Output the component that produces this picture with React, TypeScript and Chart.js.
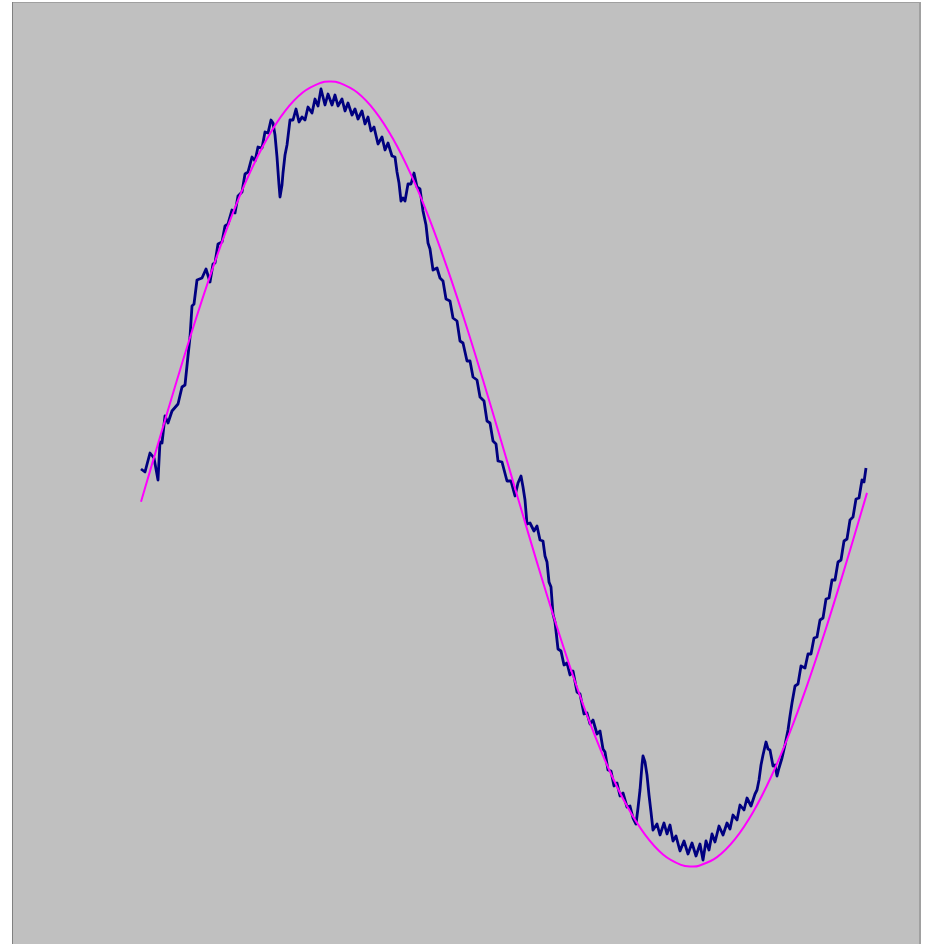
import { useEffect, useRef } from "react";
import { Chart, registerables } from "chart.js";

Chart.register(...registerables);

// Axis ranges (sample index / ADC counts)
const X_MIN = -128;
const X_MAX = 778;
const Y_MIN = -470;
const Y_MAX = 471;

// Fitted sine (magenta)
const fitX = [0, 18, 36, 54, 72, 90, 108, 126, 144, 162, 180, 189, 198, 216, 234, 252, 270, 288, 306, 324, 342, 360, 378, 396, 414, 432, 450, 468, 486, 504, 522, 540, 551, 558, 576, 594, 612, 630, 648, 666, 684, 702, 720, 726];
const fitY = [-27.8, 33.5, 94.0, 152.2, 206.6, 256.1, 299.3, 335.2, 362.9, 381.7, 391.3, 392.5, 391.3, 381.7, 362.9, 335.2, 299.3, 256.1, 206.6, 152.2, 94.0, 33.5, -27.8, -88.4, -146.8, -201.7, -251.7, -295.5, -332.1, -360.6, -380.4, -390.8, -392.5, -391.7, -383.1, -365.1, -338.2, -303.0, -260.5, -211.6, -157.5, -99.6, -39.3, -18.9];

const sampleX = [0, 4, 9, 13, 17, 19, 21, 24, 27, 31, 37, 41, 44, 47, 49, 51, 53, 56, 61, 65, 69, 72, 74, 77, 81, 84, 87, 91, 94, 97, 101, 104, 107, 111, 114, 117, 121, 124, 127, 130, 132, 134, 136, 138, 139, 141, 142, 144, 146, 149, 152, 155, 158, 161, 164, 167, 171, 174, 177, 180, 184, 187, 191, 194, 197, 201, 204, 207, 211, 214, 217, 221, 224, 227, 230, 233, 237, 241, 244, 247, 251, 254, 256, 258, 260, 262, 264, 267, 270, 273, 276, 279, 282, 285, 287, 289, 292, 296, 299, 302, 305, 309, 312, 316, 319, 322, 326, 329, 332, 336, 339, 343, 346, 349, 352, 355, 357, 361, 366, 370, 374, 377, 380, 382, 384, 386, 389, 393, 396, 399, 402, 404, 406, 408, 410, 412, 414, 417, 420, 423, 426, 429, 432, 436, 439, 443, 446, 449, 452, 456, 459, 462, 464, 467, 470, 473, 476, 479, 482, 486, 489, 492, 495, 497, 499, 501, 502, 504, 506, 508, 510, 512, 516, 519, 523, 526, 529, 532, 535, 539, 543, 547, 551, 555, 559, 562, 565, 568, 571, 574, 578, 582, 586, 589, 592, 596, 599, 603, 606, 610, 614, 616, 618, 620, 622, 625, 627, 629, 632, 634, 636, 638, 641, 644, 647, 649, 651, 654, 657, 660, 664, 667, 670, 673, 676, 679, 682, 685, 688, 691, 694, 697, 700, 703, 706, 709, 712, 715, 718, 721, 723, 725];
const sampleY = [5, 2, 21, 16, -6, 32, 31, 58, 51, 63, 70, 87, 89, 118, 137, 168, 170, 194, 196, 205, 192, 210, 211, 230, 232, 248, 250, 264, 261, 278, 282, 300, 302, 317, 313, 327, 326, 342, 341, 354, 351, 339, 317, 289, 277, 289, 301, 319, 329, 354, 354, 365, 352, 357, 354, 367, 361, 375, 368, 385, 369, 380, 369, 379, 368, 375, 363, 371, 359, 365, 355, 363, 350, 357, 343, 347, 330, 337, 324, 331, 318, 317, 302, 291, 273, 276, 273, 290, 290, 301, 287, 285, 263, 249, 231, 225, 204, 206, 196, 193, 175, 173, 156, 153, 133, 131, 113, 113, 97, 94, 77, 73, 53, 51, 33, 30, 13, 12, -7, -7, -22, -9, -2, -13, -26, -50, -49, -57, -52, -66, -67, -82, -88, -108, -113, -140, -148, -175, -177, -191, -189, -201, -197, -218, -220, -240, -239, -250, -246, -260, -257, -275, -278, -296, -297, -312, -309, -322, -319, -333, -332, -344, -350, -334, -316, -291, -282, -288, -301, -321, -338, -356, -350, -361, -349, -360, -351, -367, -362, -377, -367, -380, -369, -382, -370, -386, -367, -376, -360, -368, -352, -361, -349, -355, -341, -346, -331, -336, -324, -332, -320, -316, -306, -291, -281, -268, -275, -276, -292, -291, -302, -294, -284, -271, -256, -242, -229, -212, -210, -192, -194, -180, -180, -164, -163, -146, -144, -125, -124, -106, -106, -88, -86, -67, -65, -46, -43, -25, -24, -6, -8, 6];

const fitPoints = fitX.map((x, i) => ({ x, y: fitY[i] }));
const samplePoints = sampleX.map((x, i) => ({ x, y: sampleY[i] }));

const framePlugin = {
  id: "frame",
  beforeDraw(chart: any) {
    const { ctx, chartArea: a } = chart;
    ctx.save();
    ctx.fillStyle = "#C0C0C0";
    ctx.fillRect(a.left, a.top, a.right - a.left, a.bottom - a.top);
    ctx.lineWidth = 1;
    ctx.strokeStyle = "#A0A0A0";
    ctx.beginPath();
    ctx.moveTo(a.left - 1, a.top - 0.5);
    ctx.lineTo(a.right + 1, a.top - 0.5);
    ctx.stroke();
    ctx.strokeStyle = "#808080";
    ctx.beginPath();
    ctx.moveTo(a.left - 0.5, a.top - 1);
    ctx.lineTo(a.left - 0.5, a.bottom);
    ctx.stroke();
    ctx.strokeStyle = "#A0A0A0";
    ctx.lineWidth = 2;
    ctx.beginPath();
    ctx.moveTo(a.right + 1, a.top - 1);
    ctx.lineTo(a.right + 1, a.bottom);
    ctx.stroke();
    ctx.restore();
  },
};

export default function App() {
  const ref = useRef<HTMLCanvasElement>(null);
  useEffect(() => {
    if (!ref.current) return;
    const chart = new Chart(ref.current, {
      type: "line",
      data: {
        datasets: [
          {
            data: fitPoints,
            borderColor: "#FF00FF",
            borderWidth: 2,
            pointRadius: 0,
            tension: 0.4,
            fill: false,
          },
          {
            data: samplePoints,
            borderColor: "#000080",
            borderWidth: 2.8,
            borderJoinStyle: "round",
            pointRadius: 0,
            tension: 0,
            fill: false,
          },
        ],
      },
      options: {
        animation: false,
        responsive: false,
        devicePixelRatio: 1,
        layout: { padding: { left: 13, top: 3, right: 9, bottom: 0 } },
        scales: {
          x: { type: "linear", min: X_MIN, max: X_MAX, display: false },
          y: { type: "linear", min: Y_MIN, max: Y_MAX, display: false },
        },
        plugins: {
          legend: { display: false },
          tooltip: { enabled: false },
        },
      },
      plugins: [framePlugin],
    });
    return () => chart.destroy();
  }, []);
  return (
    <div style={{ position: "absolute", left: 0, top: 0, width: 928, height: 944, overflow: "hidden", background: "#FFFFFF" }}>
      <canvas ref={ref} width={928} height={944} style={{ display: "block" }} />
    </div>
  );
}
